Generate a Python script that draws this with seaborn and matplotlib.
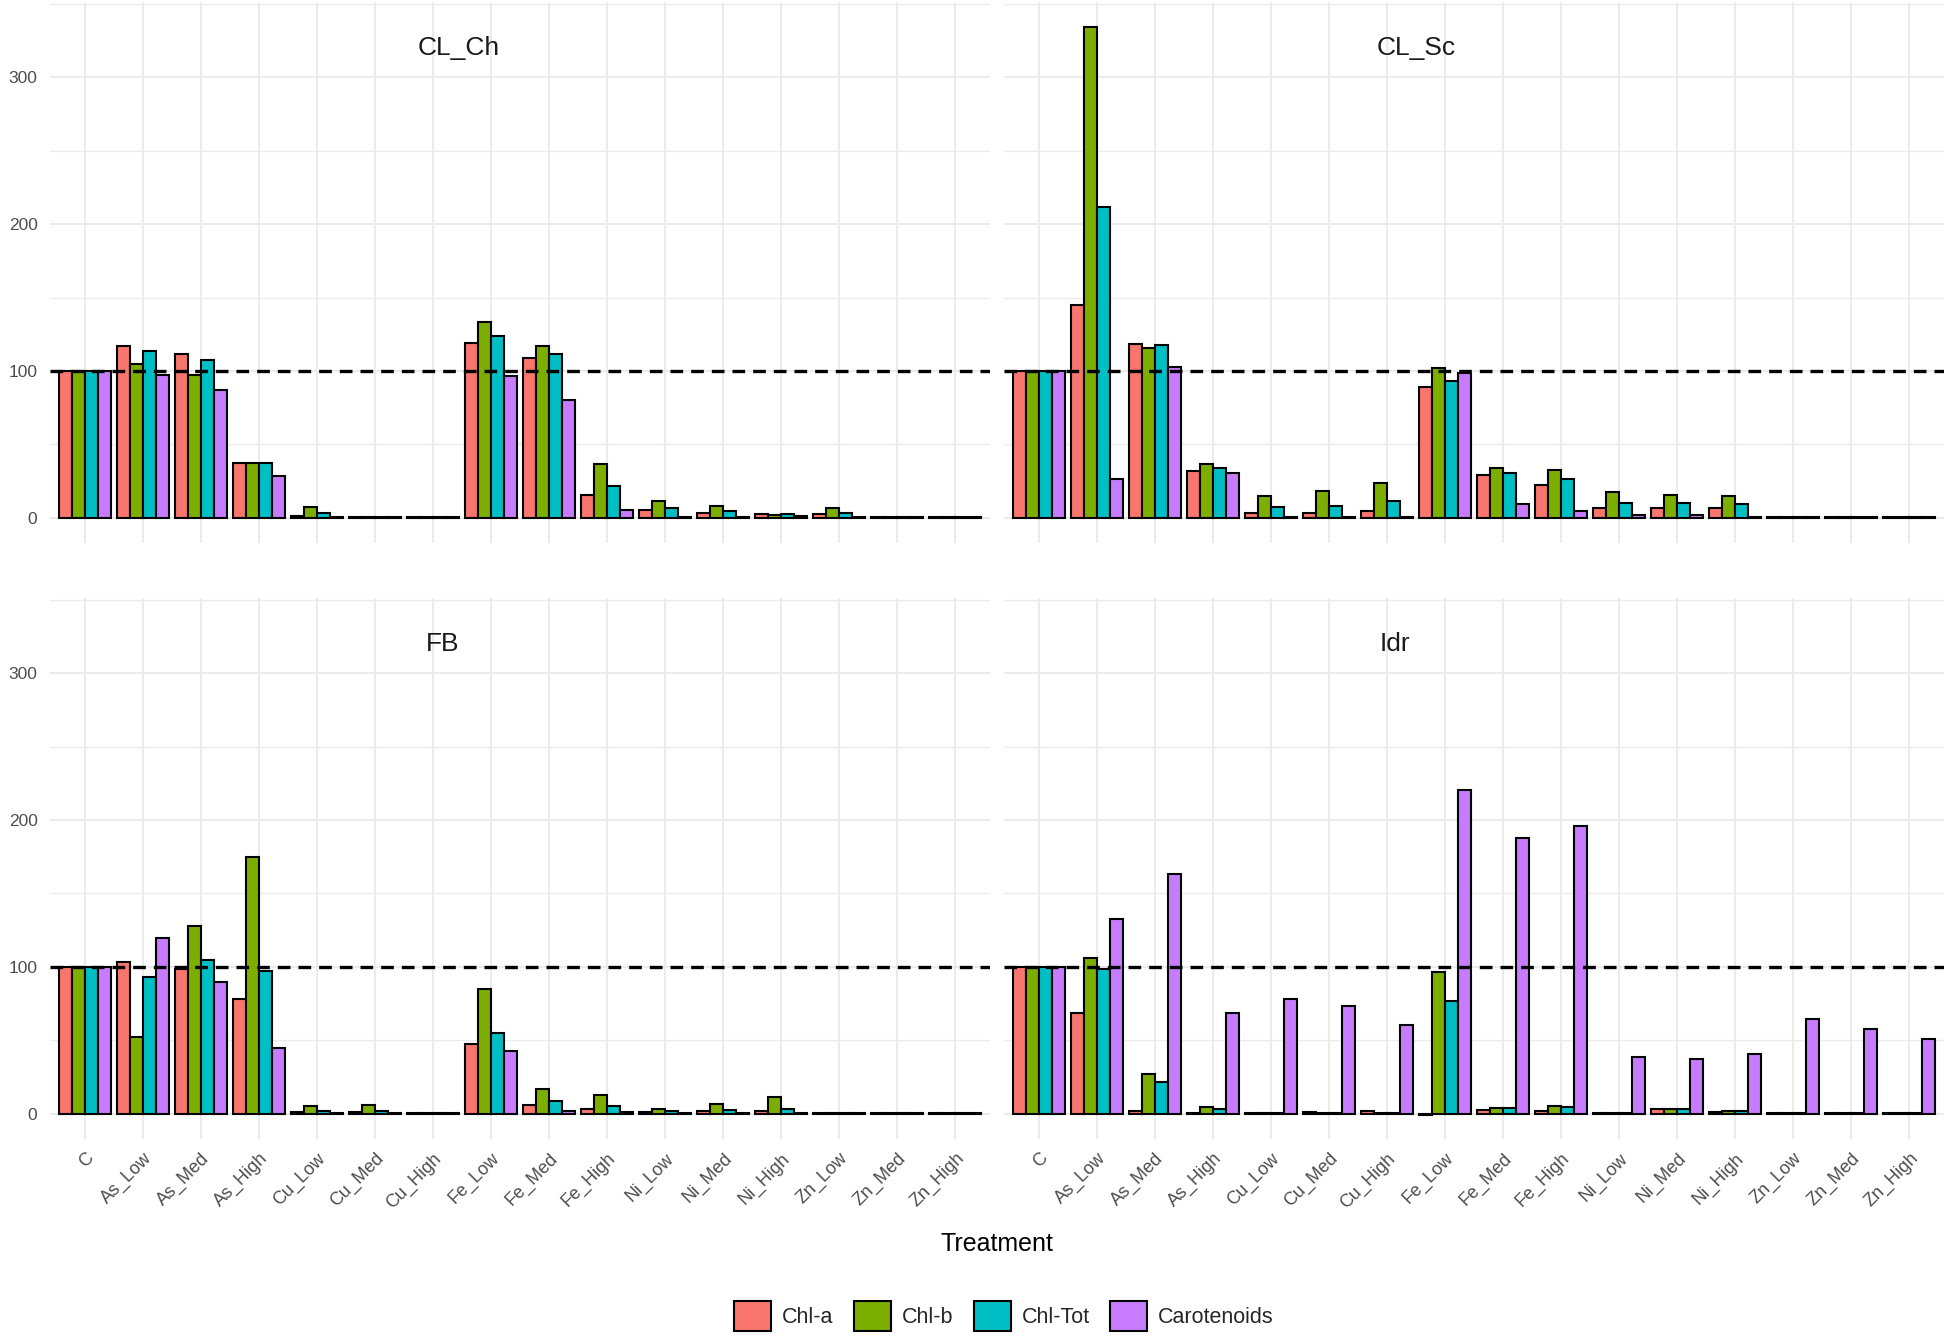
import numpy as np
import pandas as pd
import matplotlib
matplotlib.use("Agg")
import matplotlib.pyplot as plt
from matplotlib.patches import Patch
import seaborn as sns

# ---------------- data ----------------
treatments = ["C", "As_Low", "As_Med", "As_High", "Cu_Low", "Cu_Med", "Cu_High",
              "Fe_Low", "Fe_Med", "Fe_High", "Ni_Low", "Ni_Med", "Ni_High",
              "Zn_Low", "Zn_Med", "Zn_High"]
pigments = ["Chl-a", "Chl-b", "Chl-Tot", "Carotenoids"]
panels = ["CL_Ch", "CL_Sc", "FB", "Idr"]

cl_ch_chla = [100, 117, 111.5, 37, 1.5, 0.3, 0.3, 119.3, 109, 15.6, 5.1, 3.4, 2.7, 2.4, 0.3, 0.3]
cl_ch_chlb = [100, 104.7, 96.9, 37, 7.3, 0.3, 0.3, 133.4, 116.9, 36.5, 11.7, 7.8, 2.2, 6.8, 0.3, 0.3]
cl_ch_tot = [100, 113.5, 107.1, 37, 3, 0.3, 0.3, 123.7, 111.5, 21.4, 6.8, 4.4, 2.4, 3.4, 0.3, 0.3]
cl_ch_car = [100, 96.9, 87.2, 28.7, 0.5, 0.3, 0.3, 96.4, 80.3, 5.6, 0.5, 0.5, 1.0, 0.5, 0.3, 0.3]

cl_sc_chla = [100, 145, 118.5, 31.7, 2.9, 2.9, 4.4, 89.1, 29.2, 22.4, 6.8, 6.8, 6.3, 0.3, 0.3, 0.3]
cl_sc_chlb = [100, 334, 115.9, 36.5, 15.1, 18.5, 23.4, 102.3, 33.6, 32.6, 17.5, 15.6, 14.6, 0.3, 0.3, 0.3]
cl_sc_tot = [100, 211.8, 117.4, 33.6, 7.3, 8.3, 11.2, 93, 30.7, 26.3, 10.2, 9.7, 9.3, 0.3, 0.3, 0.3]
cl_sc_car = [100, 26.3, 102.8, 30.7, 0.5, 0.5, 0.5, 98.4, 9.3, 4.4, 1.7, 2.0, 0.5, 0.3, 0.3, 0.3]

fb_chla = [100, 103.2, 98.8, 77.9, 1.0, 1.0, 0.3, 47.7, 5.8, 3.4, 1.2, 1.5, 1.9, 0.3, 0.3, 0.3]
fb_chlb = [100, 52.1, 127.5, 174.7, 4.9, 5.8, 0.3, 84.7, 17, 12.7, 3.4, 6.8, 11.2, 0.3, 0.3, 0.3]
fb_tot = [100, 92.9, 104.6, 97.3, 1.9, 1.9, 0.3, 55, 8.3, 5.4, 1.5, 2.4, 3.4, 0.3, 0.3, 0.3]
fb_car = [100, 119.7, 89.5, 44.8, 0.5, 0.5, 0.3, 42.8, 1.9, 1.0, 0.5, 0.5, 0.5, 0.3, 0.3, 0.3]

idr_chla = [100, 68.6, 1.9, 0.5, 0.5, 1.2, 1.9, -1.0, 2.4, 1.9, 0.5, 2.9, 1.2, 0.3, 0.3, 0.3]
idr_chlb = [100, 106.1, 26.8, 4.4, 0.5, 0.5, 0.5, 96.8, 3.9, 5.4, 0.5, 2.9, 1.5, 0.3, 0.3, 0.3]
idr_tot = [100, 98.3, 21.4, 3.4, 0.5, 0.5, 0.5, 76.9, 3.9, 4.4, 0.5, 2.9, 1.5, 0.3, 0.3, 0.3]
idr_car = [100, 132.8, 163.5, 68.6, 77.9, 73.0, 60.3, 220.4, 187.8, 196.1, 38.9, 37.5, 40.4, 64.2, 57.9, 51.1]

reference_line = 100
y_ticks = [0, 100, 200, 300]

panel_values = {
    "CL_Ch": [cl_ch_chla, cl_ch_chlb, cl_ch_tot, cl_ch_car],
    "CL_Sc": [cl_sc_chla, cl_sc_chlb, cl_sc_tot, cl_sc_car],
    "FB": [fb_chla, fb_chlb, fb_tot, fb_car],
    "Idr": [idr_chla, idr_chlb, idr_tot, idr_car],
}

rows = []
for p in panels:
    for pig, vals in zip(pigments, panel_values[p]):
        for t, v in zip(treatments, vals):
            rows.append({"Panel": p, "Treatment": t, "Pigment": pig, "Value": v})
df = pd.DataFrame(rows)

# ---------------- style ----------------
sns.set_style("white")
plt.rcParams["font.family"] = ["Liberation Sans", "DejaVu Sans"]

colors = ["#F8766D", "#7CAE00", "#00BFC4", "#C77CFF"]
grid_col = "#EBEBEB"
text_col = "#4D4D4D"

fig = plt.figure(figsize=(19.5, 13.44), dpi=100)

W, H = 1950.0, 1344.0
panel_px = {
    "CL_Ch": (50, 2.4, 940, 540.3),
    "CL_Sc": (1004, 2.4, 940, 540.3),
    "FB": (50, 598.3, 940, 540.3),
    "Idr": (1004, 598.3, 940, 540.3),
}
title_x = {"CL_Ch": 6.44, "CL_Sc": 6.5, "FB": 6.16, "Idr": 6.14}

for p in panels:
    x0, y0, w, h = panel_px[p]
    ax = fig.add_axes([x0 / W, 1 - (y0 + h) / H, w / W, h / H])
    sub = df[df["Panel"] == p]
    sns.barplot(data=sub, x="Treatment", y="Value", hue="Pigment",
                order=treatments, hue_order=pigments, palette=colors,
                saturation=1, edgecolor="black", linewidth=1.5, width=0.9,
                errorbar=None, legend=False, ax=ax, zorder=3)
    ax.set_xlim(-0.6, len(treatments) - 0.4)
    ax.set_ylim(-17, 351)
    ax.set_yticks(y_ticks)
    ax.set_yticks([50, 150, 250, 350], minor=True)
    ax.set_axisbelow(True)
    ax.grid(True, which="major", axis="both", color=grid_col, lw=1.5, zorder=0)
    ax.grid(True, which="minor", axis="y", color=grid_col, lw=1.0, zorder=0)
    for s in ax.spines.values():
        s.set_visible(False)
    ax.tick_params(axis="both", which="both", length=0)
    ax.set_xlabel("")
    ax.set_ylabel("")
    ax.axhline(reference_line, color="black", lw=2.4, ls=(0, (3.8, 2.4)), zorder=6)
    ax.text(title_x[p], 320, p, ha="center", va="center", fontsize=19, color="#1A1A1A", zorder=7)

    if p in ("CL_Ch", "FB"):
        ax.tick_params(axis="y", pad=9, labelsize=12.5, labelcolor=text_col)
    else:
        ax.set_yticklabels([])
    if p in ("FB", "Idr"):
        ax.set_xticks(range(len(treatments)))
        ax.set_xticklabels(treatments, rotation=45, ha="right", va="top",
                           rotation_mode="anchor", fontsize=13, color=text_col)
        ax.tick_params(axis="x", pad=8)
    else:
        ax.set_xticklabels([])

fig.text(997 / W, 1 - 1243.6 / H, "Treatment", ha="center", va="center", fontsize=18, color="black")

handles = [Patch(facecolor=c, edgecolor="black", linewidth=1.5, label=l) for c, l in zip(colors, pigments)]
fig.legend(handles=handles, loc="center", bbox_to_anchor=(1004 / W, 1 - 1316 / H), ncol=4,
           frameon=False, fontsize=15.5, handlelength=1.72, handleheight=1.72,
           handletextpad=0.5, columnspacing=0.95, borderpad=0)

fig.savefig("out.png", dpi=100)
